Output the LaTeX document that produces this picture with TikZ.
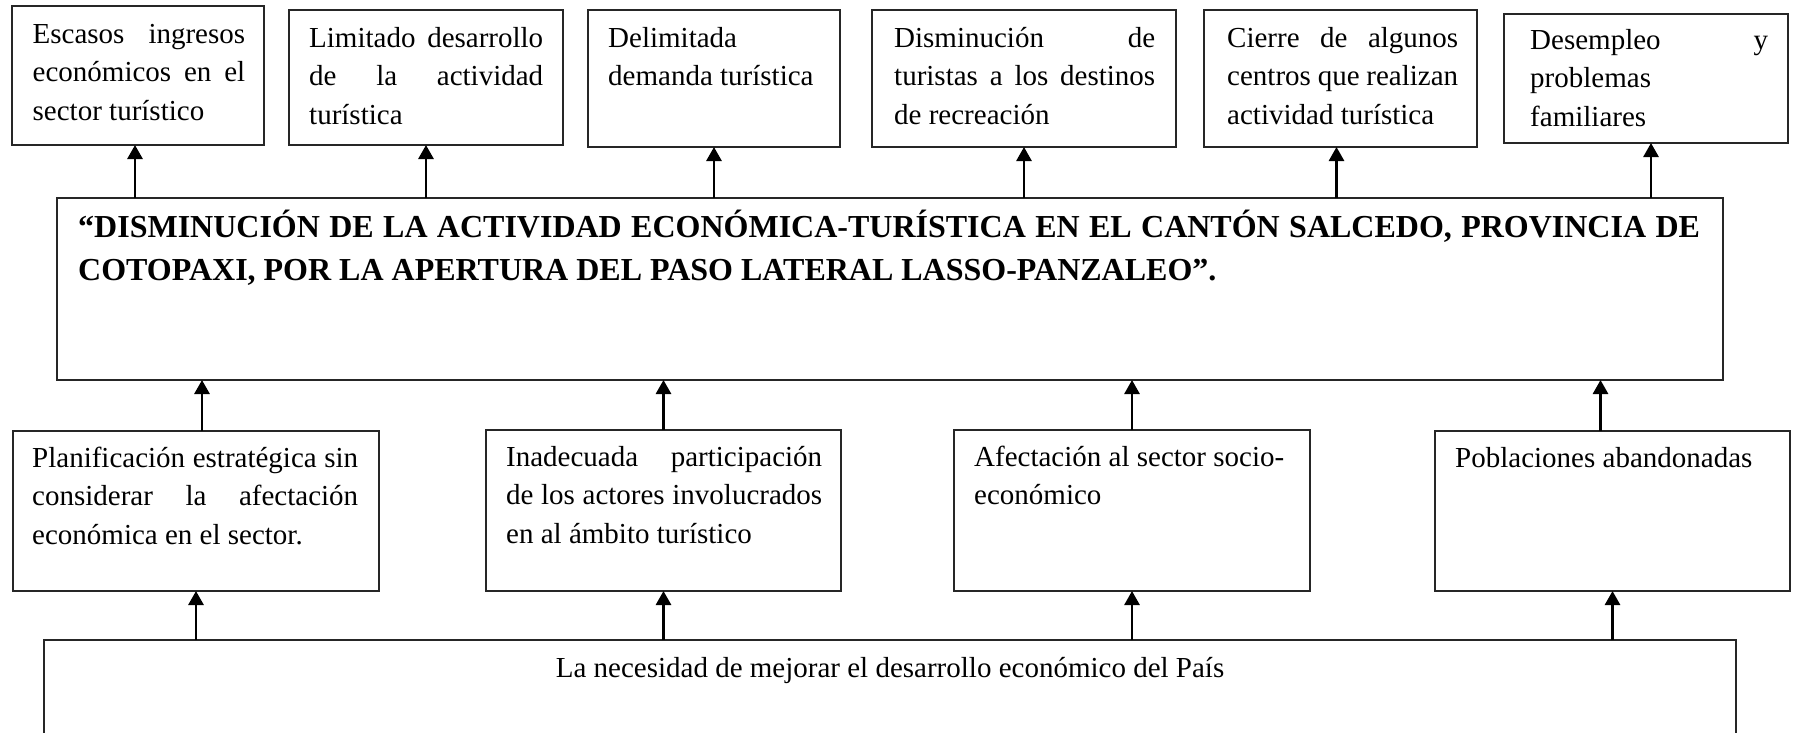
\documentclass[tikz,border=0pt]{standalone}
\usepackage{fontspec}
\setmainfont{Liberation Serif}
\usetikzlibrary{arrows.meta}
\begin{document}
\begin{tikzpicture}[x=1pt,y=-1pt,
  box/.style={draw=black!85, line width=1.3pt, inner sep=0pt, outer sep=0pt, anchor=north west},
  txt/.style={anchor=north west, inner sep=0pt, align=left, font=\fontsize{29}{38.7}\selectfont},
  ttl/.style={anchor=north west, inner sep=0pt, align=left, font=\fontsize{32}{43}\selectfont\bfseries},
  arr/.style={line width=2.8pt, -{Triangle[length=14pt,width=15pt]}}
]
\useasboundingbox (0,0) rectangle (1798,733);
% top row
\node[box, minimum width=252pt, minimum height=139pt] (T1) at (12,6) {};
\node[box, minimum width=274pt, minimum height=135pt] (T2) at (289,10) {};
\node[box, minimum width=252pt, minimum height=137pt] (T3) at (588,10) {};
\node[box, minimum width=304pt, minimum height=137pt] (T4) at (872,10) {};
\node[box, minimum width=273pt, minimum height=137pt] (T5) at (1204,10) {};
\node[box, minimum width=284pt, minimum height=129pt] (T6) at (1504,14) {};
% main
\node[box, minimum width=1666pt, minimum height=182pt] (M) at (57,198) {};
% middle row
\node[box, minimum width=366pt, minimum height=160pt] (A) at (13,431) {};
\node[box, minimum width=355pt, minimum height=161pt] (B) at (486,430) {};
\node[box, minimum width=356pt, minimum height=161pt] (C) at (954,430) {};
\node[box, minimum width=355pt, minimum height=160pt] (D) at (1435,431) {};
% bottom
\node[box, minimum width=1692pt, minimum height=130pt] (N) at (44,640) {};

% texts
\node[txt] (T1t) at (32.5,13) {\rule{0pt}{30pt}\makebox[212.5pt][s]{Escasos ingresos}\\\makebox[212.5pt][s]{económicos en el}\\sector turístico};
\node[txt] (T2t) at (309,17) {\rule{0pt}{30pt}\makebox[234pt][s]{Limitado desarrollo}\\\makebox[234pt][s]{de la actividad}\\turística};
\node[txt] (T3t) at (608,17) {\rule{0pt}{30pt}Delimitada\\demanda turística};
\node[txt] (T4t) at (894,17) {\rule{0pt}{30pt}\makebox[261pt][s]{Disminución de}\\\makebox[261pt][s]{turistas a los destinos}\\de recreación};
\node[txt] (T5t) at (1227,17) {\rule{0pt}{30pt}\makebox[231pt][s]{Cierre de algunos}\\\makebox[231pt][s]{centros que realizan}\\actividad turística};
\node[txt] (T6t) at (1530,19) {\rule{0pt}{30pt}\makebox[238pt][s]{Desempleo y}\\problemas\\familiares};

\node[ttl] (Mt) at (78,204) {\rule{0pt}{33pt}\makebox[1622pt][s]{“DISMINUCIÓN DE LA ACTIVIDAD ECONÓMICA-TURÍSTICA EN EL CANTÓN SALCEDO, PROVINCIA DE}\\COTOPAXI, POR LA APERTURA DEL PASO LATERAL LASSO-PANZALEO”.};

\node[txt] (At) at (32,437) {\rule{0pt}{30pt}\makebox[326pt][s]{Planificación estratégica sin}\\\makebox[326pt][s]{considerar la afectación}\\económica en el sector.};
\node[txt] (Bt) at (506,436) {\rule{0pt}{30pt}\makebox[316pt][s]{Inadecuada participación}\\\makebox[316pt][s]{de los actores involucrados}\\en al ámbito turístico};
\node[txt] (Ct) at (974,436) {\rule{0pt}{30pt}Afectación al sector socio-\\económico};
\node[txt] (Dt) at (1455,437) {\rule{0pt}{30pt}Poblaciones abandonadas};

\node[anchor=base, inner sep=0pt, font=\fontsize{29}{38.7}\selectfont] (Nt) at (890,677) {La necesidad de mejorar el desarrollo económico del País};

% arrows top
\draw[arr] ([xshift=-3pt]T1.south |- M.north) -- ([xshift=-3pt]T1.south);
\draw[arr] (T2.south |- M.north) -- (T2.south);
\draw[arr] (T3.south |- M.north) -- (T3.south);
\draw[arr] (T4.south |- M.north) -- (T4.south);
\draw[arr] ([xshift=-4pt]T5.south |- M.north) -- ([xshift=-4pt]T5.south);
\draw[arr] ([xshift=5pt]T6.south |- M.north) -- ([xshift=5pt]T6.south);
% arrows middle
\draw[arr] ([xshift=6pt]A.north) -- ([xshift=6pt]A.north |- M.south);
\draw[arr] (B.north) -- (B.north |- M.south);
\draw[arr] (C.north) -- (C.north |- M.south);
\draw[arr] ([xshift=-12pt]D.north) -- ([xshift=-12pt]D.north |- M.south);
% arrows bottom
\draw[arr] (A.south |- N.north) -- (A.south);
\draw[arr] (B.south |- N.north) -- (B.south);
\draw[arr] (C.south |- N.north) -- (C.south);
\draw[arr] (D.south |- N.north) -- (D.south);
\end{tikzpicture}
\end{document}
